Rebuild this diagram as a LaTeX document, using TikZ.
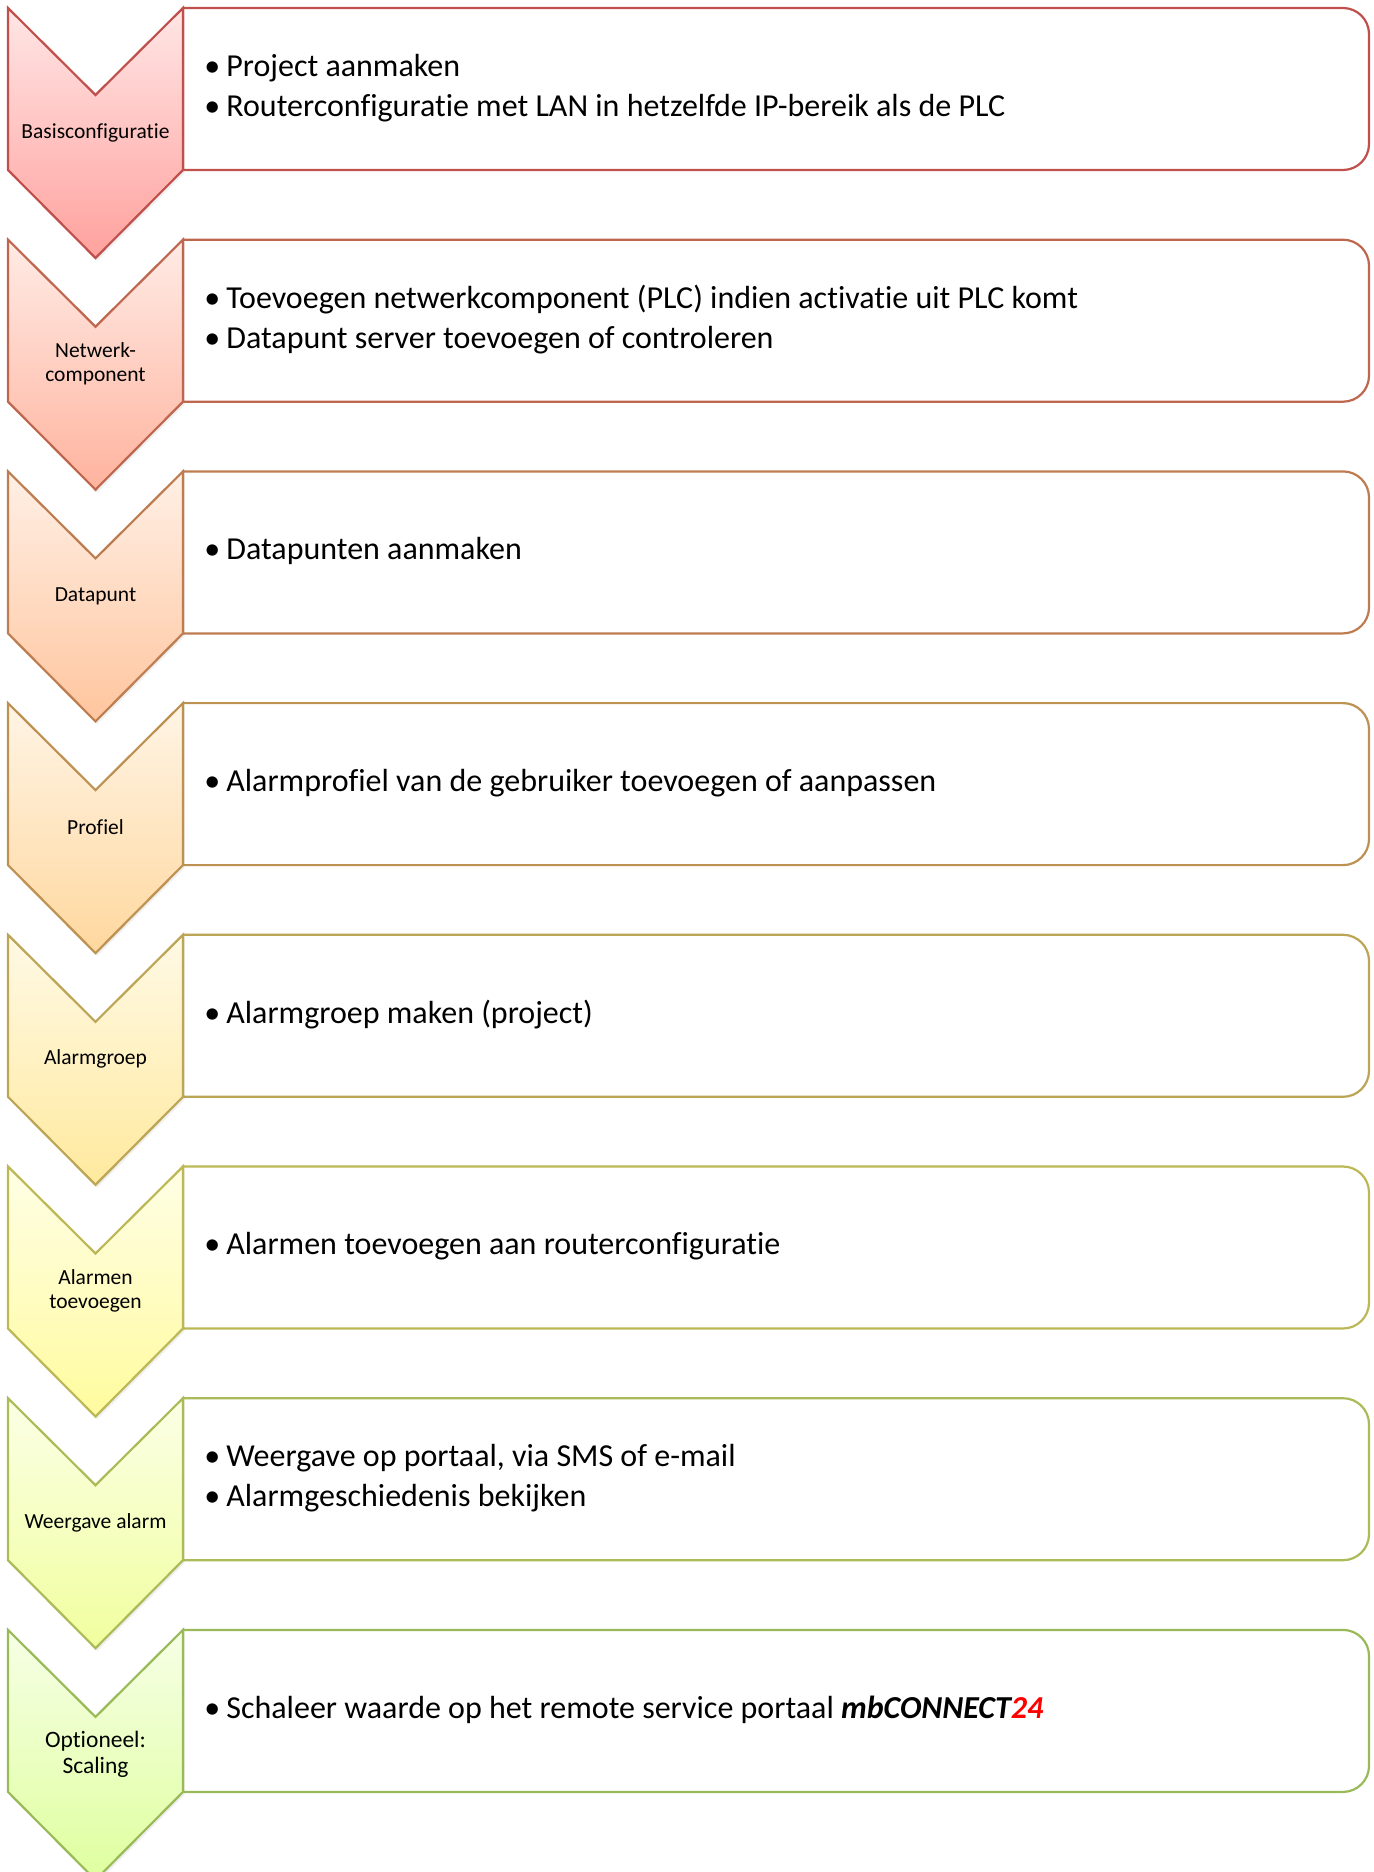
\documentclass[tikz,border=0pt]{standalone}
\usepackage{fontspec}
\setmainfont{Carlito}[Ligatures=NoCommon]
\usetikzlibrary{shadows}
\newcommand\bl[1]{\makebox[11pt][l]{\textbullet}#1}
\newcommand\lab{\fontsize{10.75pt}{12pt}\selectfont}
\newcommand\labbig{\fontsize{11.75pt}{13pt}\selectfont}
\tikzset{
  boxline/.style={draw=bord, line width=1.1pt, fill=white},
  chev/.style={draw=bord, line width=1.1pt, top color=ftop, bottom color=fbot,
     drop shadow={opacity=0.12, shadow xshift=0.8pt, shadow yshift=-1.5pt}},
  chevlabel/.style={align=center, inner sep=0pt, text=black},
  boxtext/.style={anchor=west, align=left, inner sep=0pt, text=black,
     font=\fontsize{16pt}{20pt}\selectfont}
}
\newcommand\drawstep[5]{%
  \pgfmathsetmacro\T{8+231.7*#1}%
  \pgfmathsetmacro\H{2+78*#1/7}%
  \pgfmathsetmacro\Sb{0.60-0.08*#1/7}%
  \pgfmathsetmacro\Bb{0.75-0.02*#1/7}%
  \definecolor{tmpa}{Hsb}{\H,\Sb,\Bb}\colorlet{bord}[rgb]{tmpa}%
  \definecolor{tmpb}{Hsb}{\H,0.10,1}\colorlet{ftop}[rgb]{tmpb}%
  \definecolor{tmpc}{Hsb}{\H,0.38,1}\colorlet{fbot}[rgb]{tmpc}%
  \path[boxline] (183,\T) -- (1343,\T) arc[start angle=-90,end angle=0,radius=26]
     -- (1369,\T+136) arc[start angle=0,end angle=90,radius=26] -- (183,\T+162) -- cycle;
  \path[chev] (8,\T) -- (95.5,\T+87) -- (183,\T) -- (183,\T+162) -- (95.5,\T+250)
     -- (8,\T+162) -- cycle;
  \node[chevlabel, font=#5] (c#2) at (95.5,\T+124.5) {#3};
  \node[boxtext] (t#2) at (204,\T+80) {#4};
}
\begin{document}
\begin{tikzpicture}[x=0.5pt,y=-0.5pt]
\useasboundingbox (0,0) rectangle (1373,1872);
\clip (0,0) rectangle (1373,1872);
\drawstep{0}{1}{Basisconfiguratie}{\bl{Project aanmaken}\\\bl{Routerconfiguratie met LAN in hetzelfde IP-bereik als de PLC}}{\lab}
\drawstep{1}{2}{Netwerk-\\component}{\bl{Toevoegen netwerkcomponent (PLC) indien activatie uit PLC komt}\\\bl{Datapunt server toevoegen of controleren}}{\lab}
\drawstep{2}{3}{Datapunt}{\bl{Datapunten aanmaken}}{\lab}
\drawstep{3}{4}{Profiel}{\bl{Alarmprofiel van de gebruiker toevoegen of aanpassen}}{\lab}
\drawstep{4}{5}{Alarmgroep}{\bl{Alarmgroep maken (project)}}{\lab}
\drawstep{5}{6}{Alarmen\\toevoegen}{\bl{Alarmen toevoegen aan routerconfiguratie}}{\lab}
\drawstep{6}{7}{Weergave alarm}{\bl{Weergave op portaal, via SMS of e-mail}\\\bl{Alarmgeschiedenis bekijken}}{\lab}
\drawstep{7}{8}{Optioneel:\\Scaling}{\bl{Schaleer waarde op het remote service portaal \textbf{\textit{mbCONNECT\textcolor{red}{24}}}}}{\labbig}
\end{tikzpicture}
\end{document}
